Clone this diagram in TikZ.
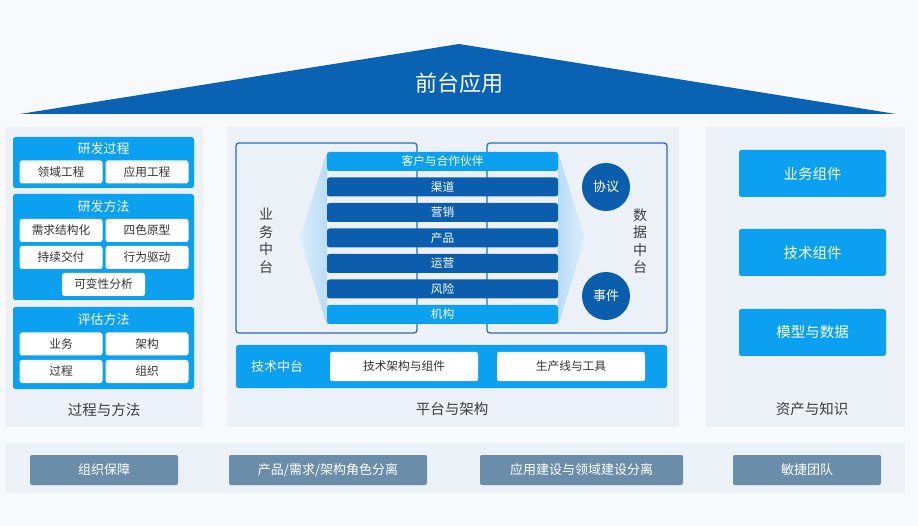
\documentclass[tikz,border=0pt]{standalone}
\usepackage{fontspec}
\setmainfont{Noto Sans CJK SC}
\usepackage{xcolor}
\usepackage{tikz}
\definecolor{skyblue}{HTML}{0BA0F0}
\definecolor{deepblue}{HTML}{0B5EAD}
\definecolor{roofblue}{HTML}{0A62B3}
\definecolor{panelgray}{HTML}{ECF0F7}
\definecolor{pagebg}{HTML}{F7F9FD}
\definecolor{slate}{HTML}{6A8DA9}
\definecolor{lineblue}{HTML}{2C6CB4}
\definecolor{textgray}{HTML}{3E3E3E}
\definecolor{wedgelight}{HTML}{DCEEFB}
\definecolor{wedgedark}{HTML}{B9DCF6}
\tikzset{
every picture/.style={x=1pt, y=-1pt, line width=0.8pt},
%%%%%%%%%%  Node styles
panel/.style={fill=panelgray, inner sep=0pt, outer sep=0pt},
block/.style={fill=skyblue, rounded corners=2.5pt, inner sep=0pt, outer sep=0pt},
block_title/.style={text=white, inner sep=0pt, font=\fontsize{13}{15}\selectfont},
sub_box/.style={fill=white, rounded corners=2.5pt, minimum width=83pt,
                minimum height=23pt, inner sep=0pt, outer sep=0pt,
                text=black!80, font=\fontsize{11.7}{14}\selectfont},
panel_label/.style={text=textgray, inner sep=0pt, font=\fontsize{14.5}{17}\selectfont},
%%%% middle layer
hub/.style={draw=lineblue, line width=1.3pt, rounded corners=3pt, inner sep=0pt, outer sep=0pt},
side_text/.style={text=textgray, align=center, inner sep=0pt,
                  font=\fontsize{14}{17.5}\selectfont},
bar/.style={fill=deepblue, rounded corners=2.5pt, minimum width=231pt,
            minimum height=19pt, inner sep=0pt, outer sep=0pt,
            text=white, font=\fontsize{11.7}{14}\selectfont},
light_bar/.style={bar, fill=skyblue},
wedge/.style={left color=wedgelight, right color=wedgedark},
wedge_rev/.style={left color=wedgedark, right color=wedgelight},
data_dot/.style={fill=deepblue, circle, minimum size=48pt, inner sep=0pt,
                 text=white, font=\fontsize{13}{15}\selectfont},
tech_box/.style={fill=white, rounded corners=2pt, minimum width=148pt,
                 minimum height=29pt, inner sep=0pt, outer sep=0pt,
                 text=black!80, font=\fontsize{11.7}{14}\selectfont},
%%%% right column
asset/.style={block, minimum width=147pt, minimum height=47pt, text=white,
              font=\fontsize{14.5}{17}\selectfont},
%%%% bottom row
base_box/.style={fill=slate, rounded corners=2pt, minimum height=30pt,
                 inner sep=0pt, outer sep=0pt, text=white,
                 font=\fontsize{13}{15}\selectfont}
}

\begin{document}
\begin{tikzpicture}
%%background
\fill[pagebg] (0,0) rectangle (918,526);
\useasboundingbox (0,0) rectangle (918,526);
%%roof
\fill[roofblue] (20,114) -- (459,44) -- (896,114) -- cycle;
\node[text=white, inner sep=0pt, font=\fontsize{22}{25}\selectfont] (front) at (459,83) {前台应用};
%%panels
\node[panel, minimum width=197pt, minimum height=300pt] (procpanel) at (104.5,277) {};
\node[panel, minimum width=452pt, minimum height=300pt] (platpanel) at (453,277) {};
\node[panel, minimum width=199pt, minimum height=300pt] (assetpanel) at (805.5,277) {};
\node[panel, minimum width=899pt, minimum height=50pt] (basepanel) at (455.5,468) {};

%%left: process and method
\node[block, minimum width=181pt, minimum height=51pt] (devproc) at (103.5,162.5) {};
\node[block_title] at (103.5,149) {研发过程};
\node[sub_box] (domain) at (61,172) {领域工程};
\node[sub_box] (appeng) at (147,172) {应用工程};
\node[block, minimum width=181pt, minimum height=106pt] (devmeth) at (103.5,247) {};
\node[block_title] at (103.5,207) {研发方法};
\node[sub_box] (reqs) at (61,230.5) {需求结构化};
\node[sub_box] (color) at (147,230.5) {四色原型};
\node[sub_box] (cd) at (61,257.5) {持续交付};
\node[sub_box] (bdd) at (147,257.5) {行为驱动};
\node[sub_box] (var) at (103.5,284.5) {可变性分析};
\node[block, minimum width=181pt, minimum height=82pt] (evalmeth) at (103.5,348) {};
\node[block_title] at (103.5,320) {评估方法};
\node[sub_box] (biz) at (61,344) {业务};
\node[sub_box] (arch) at (147,344) {架构};
\node[sub_box] (proc) at (61,371.5) {过程};
\node[sub_box] (org) at (147,371.5) {组织};
\node[panel_label] at (104,410) {过程与方法};

%%middle: platform and architecture
\draw[hub] (236,143) rectangle (417,333);
\draw[hub] (487,143) rectangle (667,333);
\node[side_text] (bizhub) at (266,241) {业\\务\\中\\台};
\node[side_text] (datahub) at (640,241) {数\\据\\中\\台};
\shade[wedge] (300,238) -- (327,152) -- (327,326) -- cycle;
\shade[wedge_rev] (585,238) -- (558,152) -- (558,326) -- cycle;
\node[light_bar] (b1) at (442.5,161.5) {客户与合作伙伴};
\node[bar] (b2) at (442.5,187) {渠道};
\node[bar] (b3) at (442.5,212.5) {营销};
\node[bar] (b4) at (442.5,238) {产品};
\node[bar] (b5) at (442.5,263.5) {运营};
\node[bar] (b6) at (442.5,289) {风险};
\node[light_bar] (b7) at (442.5,314.5) {机构};
\node[data_dot] (proto) at (606,187) {协议};
\node[data_dot] (event) at (606,296) {事件};
\node[block, minimum width=431pt, minimum height=43pt] (techhub) at (451.5,366.5) {};
\node[block_title] at (277,366.5) {技术中台};
\node[tech_box] (techarch) at (404,366.5) {技术架构与组件};
\node[tech_box] (line) at (571,366.5) {生产线与工具};
\node[panel_label] at (452,409) {平台与架构};

%%right: assets and knowledge
\node[asset] (bizcomp) at (812.5,173.5) {业务组件};
\node[asset] (techcomp) at (812.5,252.5) {技术组件};
\node[asset] (model) at (812.5,332.5) {模型与数据};
\node[panel_label] at (812,409) {资产与知识};

%%bottom row
\node[base_box, minimum width=148pt] (orgs) at (104,470) {组织保障};
\node[base_box, minimum width=198pt] (roles) at (328,470) {产品/需求/架构角色分离};
\node[base_box, minimum width=203pt] (split) at (581.5,470) {应用建设与领域建设分离};
\node[base_box, minimum width=148pt] (agile) at (807,470) {敏捷团队};
\end{tikzpicture}
\end{document}
